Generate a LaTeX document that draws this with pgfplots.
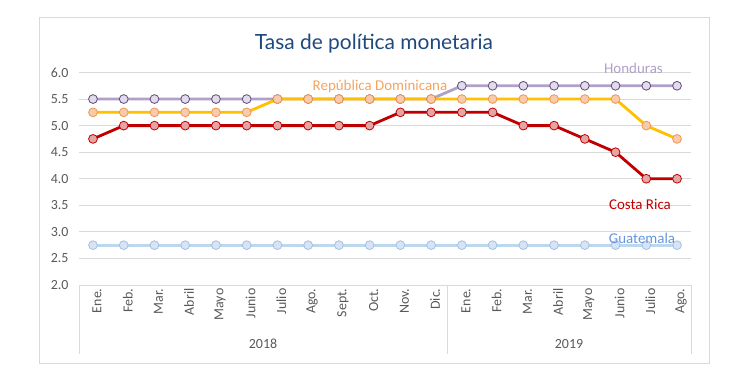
\documentclass[border=0pt]{standalone}
\usepackage{pgfplots}
\pgfplotsset{compat=1.18}
\usepackage{fontspec}
\setmainfont{Carlito}
\newfontfamily\titlefont{Lato}
\definecolor{hondL}{RGB}{177,160,199}
\definecolor{hondF}{RGB}{226,219,236}
\definecolor{hondE}{RGB}{96,73,123}
\definecolor{rdL}{RGB}{255,192,0}
\definecolor{rdF}{RGB}{248,203,173}
\definecolor{rdE}{RGB}{240,150,80}
\definecolor{rdT}{RGB}{244,164,96}
\definecolor{crL}{RGB}{192,0,0}
\definecolor{crF}{RGB}{230,165,165}
\definecolor{guL}{RGB}{189,215,238}
\definecolor{guF}{RGB}{218,227,243}
\definecolor{guE}{RGB}{157,195,230}
\definecolor{guT}{RGB}{100,150,220}
\definecolor{tick}{RGB}{89,89,89}
\definecolor{gridc}{RGB}{217,217,217}
\definecolor{titlec}{RGB}{31,73,125}
\begin{document}
\begin{tikzpicture}[x=1bp,y=1bp]
\useasboundingbox (0,0) rectangle (749,371);
\draw[gridc, line width=0.9bp] (39,8) rectangle (709,354);
\begin{axis}[
  at={(79bp,86bp)}, anchor=south west,
  scale only axis, width=612bp, height=212.5bp,
  xmin=-0.455, xmax=19.455, ymin=2, ymax=6,
  axis x line*=bottom, axis y line*=left,
  x axis line style={gridc, line width=0.9bp, -},
  y axis line style={draw=none},
  major tick length=0pt,
  ytick={2,2.5,...,6.01},
  ymajorgrids, grid style={gridc, line width=0.8bp},
  yticklabel={\pgfmathprintnumber[fixed,fixed zerofill,precision=1]{\tick}},
  /pgf/number format/assume math mode=true,
  yticklabel style={font=\fontsize{14}{16}\selectfont, text=tick, anchor=east, xshift=-7bp},
  xtick={0,...,19},
  xticklabels={Ene.,Feb.,Mar.,Abril,Mayo,Junio,Julio,Ago.,Sept.,Oct.,Nov.,Dic.,Ene.,Feb.,Mar.,Abril,Mayo,Junio,Julio,Ago.},
  xticklabel style={font=\fontsize{14}{16}\selectfont, text=tick, rotate=90, anchor=east, xshift=0bp, yshift=-4bp},
  clip=false,
  every axis plot/.append style={line width=2.8bp, mark=*, mark size=4.4bp},
]
\addplot[guL, mark options={fill=guF, draw=guE, line width=0.8bp}] coordinates {
(0,2.75)(1,2.75)(2,2.75)(3,2.75)(4,2.75)(5,2.75)(6,2.75)(7,2.75)(8,2.75)(9,2.75)
(10,2.75)(11,2.75)(12,2.75)(13,2.75)(14,2.75)(15,2.75)(16,2.75)(17,2.75)(18,2.75)(19,2.75)};
\addplot[crL, mark options={fill=crF, draw=crL, line width=0.8bp}] coordinates {
(0,4.75)(1,5)(2,5)(3,5)(4,5)(5,5)(6,5)(7,5)(8,5)(9,5)
(10,5.25)(11,5.25)(12,5.25)(13,5.25)(14,5)(15,5)(16,4.75)(17,4.5)(18,4)(19,4)};
\addplot[hondL, mark options={fill=hondF, draw=hondE, line width=0.8bp}] coordinates {
(0,5.5)(1,5.5)(2,5.5)(3,5.5)(4,5.5)(5,5.5)(6,5.5)(7,5.5)(8,5.5)(9,5.5)
(10,5.5)(11,5.5)(12,5.75)(13,5.75)(14,5.75)(15,5.75)(16,5.75)(17,5.75)(18,5.75)(19,5.75)};
\addplot[rdL, mark options={fill=rdF, draw=rdE, line width=0.8bp}] coordinates {
(0,5.25)(1,5.25)(2,5.25)(3,5.25)(4,5.25)(5,5.25)(6,5.5)(7,5.5)(8,5.5)(9,5.5)
(10,5.5)(11,5.5)(12,5.5)(13,5.5)(14,5.5)(15,5.5)(16,5.5)(17,5.5)(18,5)(19,4.75)};
\end{axis}
\draw[gridc, line width=0.9bp] (79,86) -- (79,17);
\draw[gridc, line width=0.9bp] (447.5,86) -- (447.5,17);
\draw[gridc, line width=0.9bp] (691,86) -- (691,17);
\node[text=tick, font=\fontsize{14}{16}\selectfont] at (263,27) {2018};
\node[text=tick, font=\fontsize{14}{16}\selectfont] at (569,27) {2019};
\node[text=titlec, font=\titlefont\fontsize{21}{24}\selectfont] at (374,327) {Tasa de política monetaria};
\node[text=hondL, font=\fontsize{15}{17}\selectfont] at (633.5,303) {Honduras};
\node[text=rdT, font=\fontsize{15}{17}\selectfont] at (380,284) {República Dominicana};
\node[text=crL, font=\fontsize{15}{17}\selectfont] at (640,167) {Costa Rica};
\node[text=guT, font=\fontsize{15}{17}\selectfont] at (642,133) {Guatemala};
\end{tikzpicture}
\end{document}
